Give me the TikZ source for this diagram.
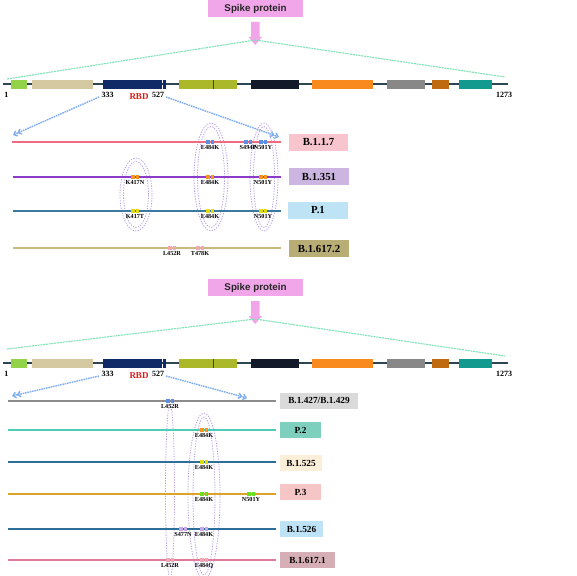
\documentclass[tikz,border=0pt]{standalone}
\usepackage{fontspec}
\setmainfont{Liberation Serif}
\newfontfamily\sansf{Liberation Sans}
\usetikzlibrary{arrows.meta}
\definecolor{spk}{HTML}{F0A6E8}
\definecolor{gline}{HTML}{7FE2B6}
\definecolor{barc}{HTML}{2C4656}
\definecolor{rbdred}{HTML}{E01818}
\definecolor{arrblue}{HTML}{7EAEF0}
\definecolor{lav}{HTML}{B9A2E8}
\definecolor{g1}{HTML}{92D34A}
\definecolor{g2}{HTML}{D4C9A0}
\definecolor{g3}{HTML}{0F2A66}
\definecolor{g4}{HTML}{AAB82A}
\definecolor{g5}{HTML}{121A2A}
\definecolor{g6}{HTML}{F88A1E}
\definecolor{g7}{HTML}{888888}
\definecolor{g8}{HTML}{C06A10}
\definecolor{g9}{HTML}{129A8E}
% row lines
\definecolor{lA}{HTML}{EE6A80}
\definecolor{lB}{HTML}{8A3CC8}
\definecolor{lC}{HTML}{3A7AA0}
\definecolor{lD}{HTML}{C9B97A}
\definecolor{lE}{HTML}{8C8C8C}
\definecolor{lF}{HTML}{4CCDB5}
\definecolor{lG}{HTML}{2E6E9A}
\definecolor{lH}{HTML}{E0A32A}
\definecolor{lI}{HTML}{2E6E9A}
\definecolor{lJ}{HTML}{E07A98}
% label boxes
\definecolor{bA}{HTML}{F8C5CE}
\definecolor{bB}{HTML}{CDB5E2}
\definecolor{bC}{HTML}{BDE3F5}
\definecolor{bD}{HTML}{B8AD74}
\definecolor{bE}{HTML}{DADADA}
\definecolor{bF}{HTML}{7FCFBF}
\definecolor{bG}{HTML}{FCEFD9}
\definecolor{bH}{HTML}{F6C6C6}
\definecolor{bI}{HTML}{BEE2F6}
\definecolor{bJ}{HTML}{D6AEB6}
% markers
\definecolor{mblue}{HTML}{5B8FE6}
\definecolor{morange}{HTML}{F7941D}
\definecolor{myellow}{HTML}{E0DC10}
\definecolor{mpink}{HTML}{F4A6B4}
\definecolor{mgreen}{HTML}{66E020}
\definecolor{mlav}{HTML}{C8A8E8}
\tikzset{
 spikebox/.style={fill=spk, minimum width=95pt, minimum height=17pt, inner sep=0pt,
   font=\sansf\bfseries\fontsize{9.8}{11}\selectfont, text=black!85},
 greenline/.style={draw=gline, line width=1.1pt, dash pattern=on 2pt off 0.8pt},
 bar/.style={draw=barc, line width=1.3pt},
 numlab/.style={font=\bfseries\fontsize{8}{9}\selectfont, inner sep=0pt},
 rbdlab/.style={inner sep=0pt, text=rbdred, font=\bfseries\fontsize{9}{10}\selectfont},
 bluearr/.style={draw=arrblue, line width=1.4pt, dash pattern=on 1.6pt off 0.8pt,
   -{Straight Barb[length=3pt,width=5.5pt]Straight Barb[length=3pt,width=5.5pt]}},
 varlab/.style={inner sep=0pt, minimum height=17pt, font=\bfseries\fontsize{10.8}{11}\selectfont},
 varlabb/.style={inner sep=0pt, minimum height=16pt, font=\bfseries\fontsize{9.3}{10}\selectfont},
 rowline/.style={line width=1.3pt},
 mutlab/.style={inner sep=0pt, anchor=north, font=\bfseries\fontsize{6.2}{7}\selectfont},
 grp/.style={draw=lav, line width=0.8pt, dash pattern=on 1.3pt off 1.3pt},
 pics/mutpair/.style={code={\fill[#1] (-3.9,-2.3) rectangle (-0.5,2.3); \fill[#1] (0.5,-2.3) rectangle (3.9,2.3);}},
}
\newcommand\mutat[5]{\pic at (#2,#3) {mutpair=#4}; \node[mutlab] (#1) at (#2,#3+3) {#5};}
\newcommand\spikehdr[4]{%
\begin{scope}[shift={(0,#2)}]
 \node[spikebox] (#1spk) at (255.5,8.5) {Spike protein};
 \fill[spk] (251,22) -- (259.5,22) -- (259.5,37) -- (262,37) -- (255.2,45) -- (248.5,37) -- (251,37) -- cycle;
 \coordinate (#1apex) at (255.2,40);
 \coordinate (#1gl) at (7,#3);
 \coordinate (#1gr) at (505,#4);
 \draw[greenline] (#1gl) -- (#1apex) -- (#1gr);
 \coordinate (#1b0) at (3,84);
 \coordinate (#1b1) at (508,84);
 \draw[bar] (#1b0) -- (#1b1);
 \fill[g1] (11,80) rectangle (27,89);
 \fill[g2] (32,80) rectangle (93,89);
 \fill[g3] (103,80) rectangle (162,89);
 \fill[g3] (163,80) rectangle (165.5,89);
 \fill[g4] (179,80) rectangle (237,89);
 \fill[barc] (212.5,80) rectangle (213.7,89);
 \fill[g5] (251,80) rectangle (299,89);
 \fill[g6] (312,80) rectangle (373,89);
 \fill[g7] (387,80) rectangle (425,89);
 \fill[g8] (432,80) rectangle (449,89);
 \fill[g9] (459,80) rectangle (492,89);
 \node[numlab] (#1n1) at (6.5,94.5) {1};
 \node[numlab] (#1n333) at (107.5,94.5) {333};
 \node[rbdlab] (#1rbd) at (139,96.5) {RBD};
 \node[numlab] (#1n527) at (158,94.5) {527};
 \node[numlab] (#1n1273) at (504,95) {1273};
 \coordinate (#1al) at (99,97);
 \coordinate (#1ar) at (166,97);
\end{scope}}
\begin{document}
\begin{tikzpicture}[x=1pt,y=-1pt]
\useasboundingbox[fill=white] (0,0) rectangle (577,575);
\spikehdr{T}{0}{79}{77}
\spikehdr{U}{279}{70}{77}

% ---------- top section ----------
\draw[grp] (136,194.5) ellipse [x radius=16pt, y radius=36.5pt];
\draw[grp] (136,194.5) ellipse [x radius=12.5pt, y radius=33pt];
\draw[grp] (211,177) ellipse [x radius=17pt, y radius=54pt];
\draw[grp] (211,177) ellipse [x radius=13.5pt, y radius=50.5pt];
\draw[grp] (264,177) ellipse [x radius=14pt, y radius=54pt];
\draw[grp] (264,177) ellipse [x radius=10.5pt, y radius=50.5pt];

\coordinate (As) at (12,142); \coordinate (Ae) at (281,142);
\coordinate (Bs) at (13,177); \coordinate (Be) at (281,177);
\coordinate (Cs) at (13,211); \coordinate (Ce) at (281,211);
\coordinate (Ds) at (13,248); \coordinate (De) at (281,248);
\draw[rowline,lA] (As) -- (Ae);
\draw[rowline,lB] (Bs) -- (Be);
\draw[rowline,lC] (Cs) -- (Ce);
\draw[rowline,lD] (Ds) -- (De);
\node[varlab,fill=bA,minimum width=59pt] (vA) at (318.5,142) {B.1.1.7};
\node[varlab,fill=bB,minimum width=60pt] (vB) at (319,176.5) {B.1.351};
\node[varlab,fill=bC,minimum width=60pt] (vC) at (318,210.5) {P.1};
\node[varlab,fill=bD,minimum width=60pt] (vD) at (319,248.5) {B.1.617.2};

\coordinate (TLend) at (13,135);
\coordinate (TRend) at (279,137);
\draw[bluearr] (Tal) -- (TLend);
\draw[bluearr] (Tar) -- (TRend);

\mutat{a1}{210}{142}{mblue}{E484K}
\mutat{a2}{248}{142}{mblue}{S494P}
\mutat{a3}{263}{142}{mblue}{N501Y}
\mutat{b1}{135}{177}{morange}{K417N}
\mutat{b2}{210}{177}{morange}{E484K}
\mutat{b3}{263}{177}{morange}{N501Y}
\mutat{c1}{135}{211}{myellow}{K417T}
\mutat{c2}{210}{211}{myellow}{E484K}
\mutat{c3}{263}{211}{myellow}{N501Y}
\mutat{d1}{172}{248}{mpink}{L452R}
\mutat{d2}{200}{248}{mpink}{T478K}

% ---------- bottom section ----------
\draw[grp] (170,491) ellipse [x radius=4.5pt, y radius=87pt];
\draw[grp] (204,496) ellipse [x radius=16pt, y radius=83pt];
\draw[grp] (204,496) ellipse [x radius=11pt, y radius=79pt];

\coordinate (Es) at (8,401); \coordinate (Ee) at (276,401);
\coordinate (Fs) at (8,430); \coordinate (Fe) at (276,430);
\coordinate (Gs) at (8,462); \coordinate (Ge) at (276,462);
\coordinate (Hs) at (8,494); \coordinate (He) at (276,494);
\coordinate (Is) at (8,529); \coordinate (Ie) at (276,529);
\coordinate (Js) at (8,560); \coordinate (Je) at (276,560);
\draw[rowline,lE] (Es) -- (Ee);
\draw[rowline,lF] (Fs) -- (Fe);
\draw[rowline,lG] (Gs) -- (Ge);
\draw[rowline,lH] (Hs) -- (He);
\draw[rowline,lI] (Is) -- (Ie);
\draw[rowline,lJ] (Js) -- (Je);
\node[varlabb,fill=bE,minimum width=78pt] (vE) at (319,400.5) {B.1.427/B.1.429};
\node[varlabb,fill=bF,minimum width=41pt] (vF) at (300.5,430) {P.2};
\node[varlabb,fill=bG,minimum width=42pt] (vG) at (301,463) {B.1.525};
\node[varlabb,fill=bH,minimum width=41pt] (vH) at (300.5,492) {P.3};
\node[varlabb,fill=bI,minimum width=43pt] (vI) at (301.5,529) {B.1.526};
\node[varlabb,fill=bJ,minimum width=55pt] (vJ) at (307.5,560) {B.1.617.1};

\coordinate (ULend) at (12,396);
\coordinate (URend) at (247,398);
\draw[bluearr] (Ual) -- (ULend);
\draw[bluearr] (Uar) -- (URend);

\mutat{e1}{170}{401}{mblue}{L452R}
\mutat{f1}{204}{430}{morange}{E484K}
\mutat{g1}{204}{462}{myellow}{E484K}
\mutat{h1}{204}{494}{mgreen}{E484K}
\mutat{h2}{251}{494}{mgreen}{N501Y}
\mutat{i1}{183}{529}{mlav}{S477N}
\mutat{i2}{204}{529}{mlav}{E484K}
\mutat{j1}{170}{560}{mpink}{L452R}
\mutat{j2}{204}{560}{mpink}{E484Q}
\end{tikzpicture}
\end{document}
